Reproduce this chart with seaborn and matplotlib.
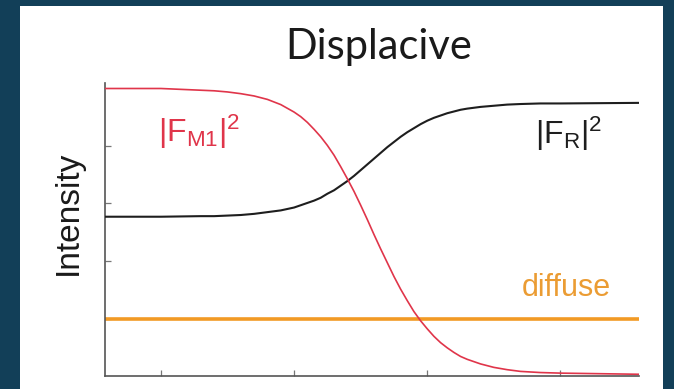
import matplotlib
matplotlib.use("Agg")
import matplotlib.pyplot as plt
import pandas as pd
import seaborn as sns
from matplotlib.patches import Rectangle

# Order parameter curves across the transition (arbitrary units)
temperature = [0.08, 0.5, 0.8, 0.9, 1.0, 1.1, 1.2, 1.3, 1.4, 1.5, 1.55, 1.6,
               1.65, 1.7, 1.75, 1.8, 1.85, 1.9, 1.95, 2.0, 2.05, 2.1, 2.15,
               2.2, 2.25, 2.3, 2.35, 2.4, 2.45, 2.5, 2.55, 2.6, 2.65, 2.7,
               2.75, 2.8, 2.9, 3.0, 3.1, 3.2, 3.35, 3.5, 4.09]
f_m1 = [5.00, 5.00, 4.97, 4.96, 4.94, 4.91, 4.87, 4.81, 4.72, 4.59, 4.51, 4.41,
        4.29, 4.16, 4.01, 3.84, 3.64, 3.43, 3.21, 2.97, 2.72, 2.46, 2.21,
        1.97, 1.73, 1.51, 1.31, 1.12, 0.96, 0.82, 0.69, 0.58, 0.49, 0.41,
        0.34, 0.29, 0.21, 0.15, 0.11, 0.08, 0.06, 0.05, 0.03]
f_r = [2.77, 2.77, 2.78, 2.78, 2.79, 2.80, 2.82, 2.85, 2.88, 2.93, 2.97, 3.01,
       3.05, 3.10, 3.17, 3.23, 3.31, 3.39, 3.48, 3.58, 3.68, 3.78, 3.88,
       3.98, 4.07, 4.16, 4.24, 4.31, 4.38, 4.44, 4.49, 4.53, 4.57, 4.60,
       4.63, 4.65, 4.68, 4.70, 4.72, 4.73, 4.74, 4.74, 4.75]
diffuse_t = [0.08, 4.09]
diffuse_i = [1.0, 1.0]
x_ticks = [0.5, 1.5, 2.5, 3.5]
y_ticks = [1, 2, 3, 4]

sns.set_style("ticks")
SANS = ["Liberation Sans", "DejaVu Sans"]
plt.rcParams["font.family"] = SANS
plt.rcParams["mathtext.fontset"] = "custom"
plt.rcParams["mathtext.rm"] = "Liberation Sans"
plt.rcParams["mathtext.it"] = "Liberation Sans"

RED = "#e0354a"
BLACK = "#1e1e1e"
ORANGE = "#f29a24"

fig = plt.figure(figsize=(6.74, 3.89), dpi=100)
fig.patch.set_facecolor("#123f58")
panel = Rectangle((20 / 674, 0), 643 / 674, 383 / 389,
                  transform=fig.transFigure, facecolor="white",
                  edgecolor="none", zorder=-10)
fig.patches.append(panel)

ax = fig.add_axes([105 / 674, 13 / 389, 534 / 674, 293.25 / 389])
ax.set_zorder(5)
ax.set_facecolor("none")

curves = pd.DataFrame({"T": temperature, "FM1": f_m1, "FR": f_r})
diff = pd.DataFrame({"T": diffuse_t, "I": diffuse_i})

sns.lineplot(data=diff, x="T", y="I", ax=ax, color=ORANGE, lw=2.6,
             estimator=None, zorder=2)
sns.lineplot(data=curves, x="T", y="FR", ax=ax, color=BLACK, lw=1.5,
             estimator=None, zorder=3)
sns.lineplot(data=curves, x="T", y="FM1", ax=ax, color=RED, lw=1.2,
             estimator=None, zorder=4)

ax.set_xlim(0.08, 4.09)
ax.set_ylim(0, 5.1)
ax.set_xticks(x_ticks)
ax.set_yticks(y_ticks)
ax.set_xticklabels([])
ax.set_yticklabels([])
ax.tick_params(direction="in", length=4, width=0.9, colors="#777777")
ax.set_xlabel("")
ax.set_ylabel("")
for side in ("top", "right"):
    ax.spines[side].set_visible(False)
for side in ("left", "bottom"):
    ax.spines[side].set_color("#555555")
    ax.spines[side].set_linewidth(1.2)

ax.text(0.477, 4.07, r"$|\mathrm{F}_{\mathrm{M1}}|^{2}$", color=RED,
        fontsize=23, ha="left", va="baseline")
ax.text(3.31, 4.04, r"$|\mathrm{F}_{\mathrm{R}}|^{2}$", color=BLACK,
        fontsize=23, ha="left", va="baseline")
ax.text(3.876, 1.39, "diffuse", color="#eb9c33", fontsize=22, family=SANS,
        ha="right", va="baseline")

fig.text(379 / 674, (389 - 59) / 389, "Displacive", family=["Lato", "DejaVu Sans"],
         fontsize=30, color="#1a1a1a", ha="center", va="baseline")
fig.text(68 / 674, (389 - 213) / 389, "Intensity", fontsize=24, color="#1a1a1a",
         family=SANS, rotation=90, ha="center", va="center")

fig.savefig("out.png", dpi=100, facecolor=fig.get_facecolor())
